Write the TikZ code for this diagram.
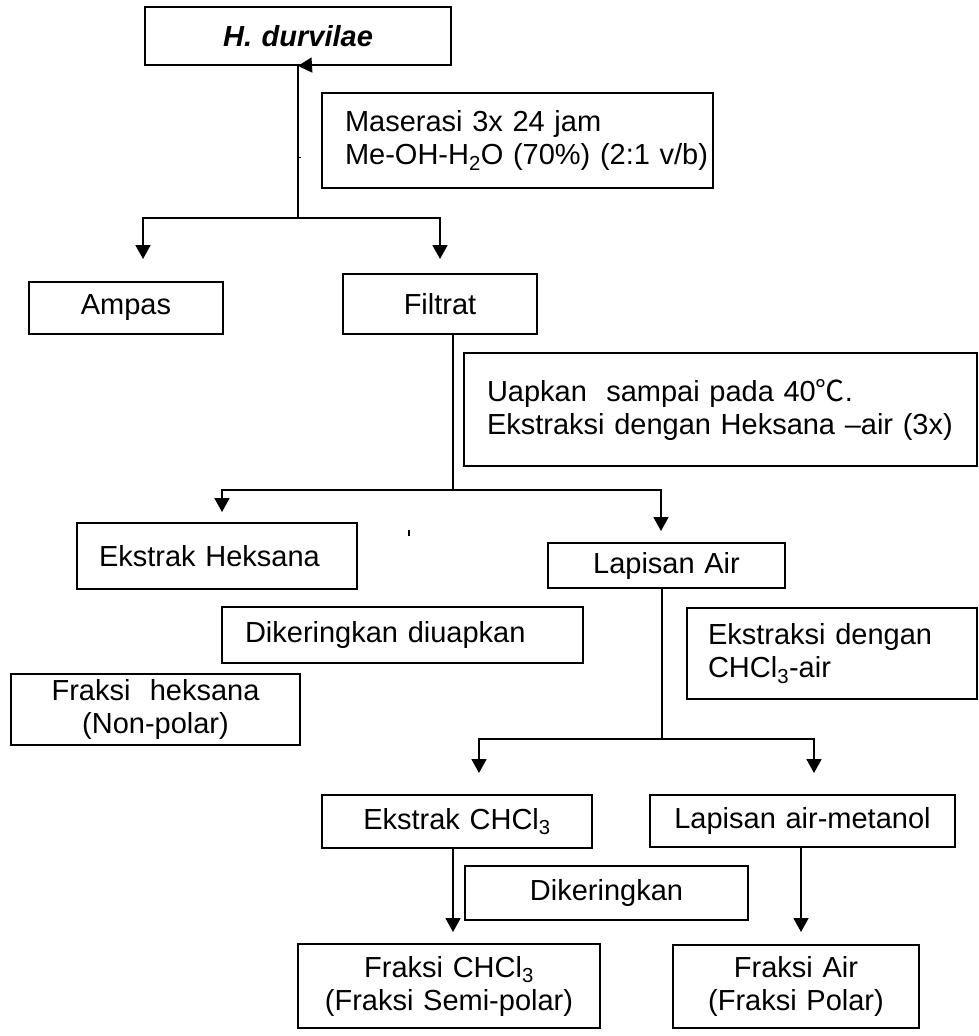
\documentclass[tikz,border=0pt]{standalone}
\usepackage{fontspec}
\setmainfont{Liberation Sans}
\newfontfamily\cjkf{Noto Sans CJK SC}
\usetikzlibrary{arrows.meta}
\begin{document}
\begin{tikzpicture}[x=1pt,y=-1pt,
  every node/.style={font=\fontsize{29}{33}\selectfont},
  box/.style={draw, line width=1.8pt, inner sep=0pt, minimum width=#1},
  conn/.style={line width=1.8pt},
  arr/.style={line width=1.8pt, -{Triangle[length=14pt,width=15pt]}},
]
\clip (0,0) rectangle (979,1036);
\fill[white] (0,0) rectangle (979,1036);

% boxes
\node[box=306, minimum height=58, text width=300, align=center] (top) at (298,36) {\textbf{\textit{H. durvilae}}};
\node[box=391, minimum height=95, text width=345, align=left] (mas) at (517.5,140.5) {\makebox[345pt][l]{Maserasi 3x 24 jam}\\\makebox[345pt][l]{Me-OH-H\textsubscript{2}O (70\%) (2:1 v/b)}};
\node[box=194, minimum height=52, text width=190, align=center] (ampas) at (126,308) {Ampas};
\node[box=194, minimum height=60, text width=190, align=center] (filtrat) at (440,304) {Filtrat};
\node[box=513, minimum height=113, text width=467, align=left] (uap) at (720.5,409.5) {\makebox[467pt][l]{Uapkan\ \ sampai pada 40{\cjkf ℃}.}\\\makebox[467pt][l]{Ekstraksi dengan Heksana \textendash air (3x)}};
\node[box=280, minimum height=66, text width=236, align=left] (ekhek) at (217,556) {Ekstrak Heksana};
\node[box=237, minimum height=45, text width=230, align=center] (lapair) at (666.5,565.5) {Lapisan Air};
\node[box=361, minimum height=56, text width=315, align=left] (dikdiu) at (402.5,635) {Dikeringkan diuapkan};
\node[box=290, minimum height=91, text width=248, align=left] (ekchcl) at (832,653.5) {Ekstraksi dengan\\CHCl\textsubscript{3}-air};
\node[box=289, minimum height=71, text width=280, align=center] (frhek) at (155.5,709.5) {Fraksi\ \ heksana\\(Non-polar)};
\node[box=270, minimum height=53, text width=260, align=center] (ekstchcl) at (457,821.5) {Ekstrak CHCl\textsubscript{3}};
\node[box=305, minimum height=52, text width=300, align=center] (lapmet) at (802.5,821) {Lapisan air-metanol};
\node[box=283, minimum height=54, text width=275, align=center] (dik) at (606.5,893) {Dikeringkan};
\node[box=302, minimum height=84, text width=296, align=center] (frchcl) at (449,986) {Fraksi CHCl\textsubscript{3}\\(Fraksi Semi-polar)};
\node[box=246, minimum height=83, text width=240, align=center] (frair) at (796,986.5) {Fraksi Air\\(Fraksi Polar)};

% junctions and free ends
\coordinate (ah) at (313,65);
\coordinate (j1) at (298,218);
\coordinate (a1) at (143,259);
\coordinate (a2) at (440,259);
\coordinate (f0) at (453,334);
\coordinate (j2) at (453,490);
\coordinate (b1) at (222,512);
\coordinate (b2) at (661,531);
\coordinate (l0) at (662,588);
\coordinate (j3) at (662,739);
\coordinate (c1) at (479,773);
\coordinate (c2) at (814,773);
\coordinate (e0) at (453,848);
\coordinate (e1) at (453,932);
\coordinate (m0) at (801,847);
\coordinate (m1) at (801,932);

% connectors
\draw[conn] (top.south) -- (j1);
\draw[arr] (ah) -- (top.south);
\draw[arr] (j1) -| (a1);
\draw[arr] (j1) -| (a2);
\draw[conn] (f0) -- (j2);
\draw[arr] (j2) -| (b1);
\draw[arr] (j2) -| (b2);
\draw[conn] (l0) -- (j3);
\draw[arr] (j3) -| (c1);
\draw[arr] (j3) -| (c2);
\draw[arr] (e0) -- (e1);
\draw[arr] (m0) -- (m1);

% stray marks
\draw[line width=2pt] (409,530) -- (409,536);
\draw[line width=1pt] (298,157) -- (301,157);
\end{tikzpicture}
\end{document}
